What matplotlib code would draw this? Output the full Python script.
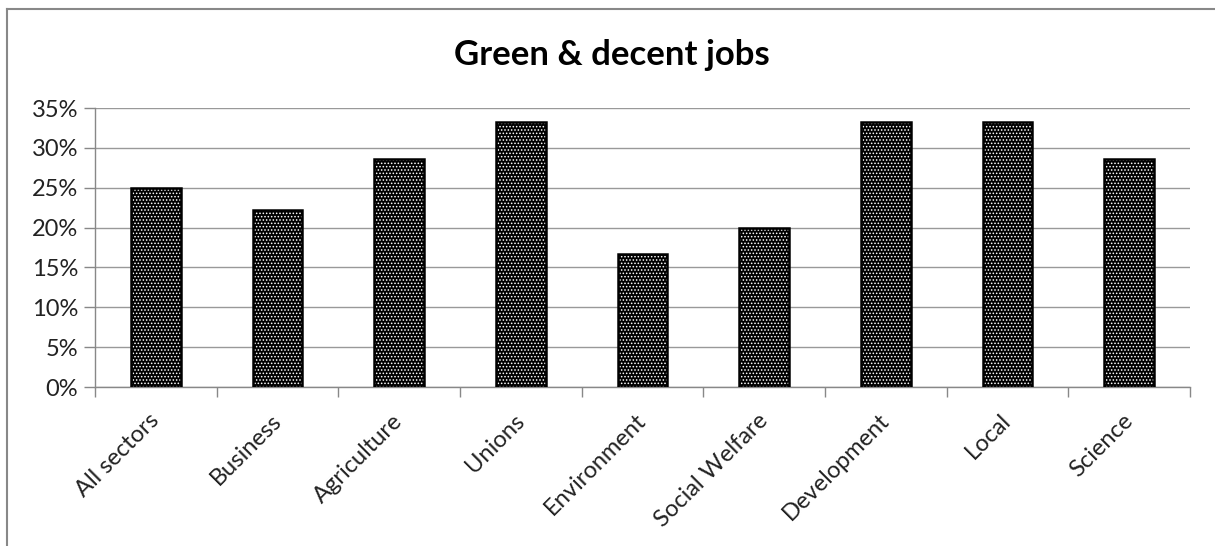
import matplotlib
matplotlib.use("Agg")
import matplotlib.pyplot as plt
from matplotlib.lines import Line2D
import matplotlib.transforms as mtransforms
import numpy as np

categories = ["All sectors", "Business", "Agriculture", "Unions", "Environment",
              "Social Welfare", "Development", "Local", "Science"]
values = [0.25, 0.222, 0.286, 0.333, 0.167, 0.20, 0.333, 0.333, 0.286]
yticks = [0, 0.05, 0.10, 0.15, 0.20, 0.25, 0.30, 0.35]
ytick_labels = ["0%", "5%", "10%", "15%", "20%", "25%", "30%", "35%"]
title = "Green & decent jobs"

plt.rcParams['font.family'] = ['Lato', 'DejaVu Sans']
plt.rcParams['hatch.linewidth'] = 0.7

W, H = 1215, 546
fig = plt.figure(figsize=(W / 100, H / 100), dpi=100)
ax = fig.add_axes([95 / W, 1 - 387 / H, (1190 - 95) / W, (387 - 108) / H])

x = np.arange(len(categories))
# dotted fill: white hatch on black face
ax.bar(x, values, width=0.41, color='black', edgecolor='white', linewidth=0,
       hatch='.....', zorder=3)
# black outline
ax.bar(x, values, width=0.41, fill=False, edgecolor='black', linewidth=1.8,
       zorder=4)

ax.set_xlim(-0.5, len(categories) - 0.5)
ax.set_ylim(0, 0.35)
ax.set_yticks(yticks)
ax.set_yticklabels(ytick_labels, fontsize=17, color='#222222')
ax.set_xticks(x)
ax.set_xticklabels([])
ax.set_xticks(np.arange(-0.5, len(categories)), minor=True)
ax.tick_params(axis='x', which='major', length=0)
ax.tick_params(axis='x', which='minor', length=7, color='#888888', width=1)
ax.tick_params(axis='y', length=8, color='#888888', width=1, pad=4)

# category labels, rotated 45 degrees, anchored just below each category centre
lbl_trans = ax.get_xaxis_transform() + mtransforms.ScaledTranslation(
    -7 / 100, -23 / 100, fig.dpi_scale_trans)
for xi, cat in zip(x, categories):
    ax.text(xi, 0, cat, transform=lbl_trans, rotation=45, ha='right', va='top',
            rotation_mode='anchor', fontsize=17, color='#222222', clip_on=False)

ax.yaxis.grid(True, color='#999999', linewidth=1)
ax.set_axisbelow(True)
for s in ['top', 'right']:
    ax.spines[s].set_visible(False)
for s in ['left', 'bottom']:
    ax.spines[s].set_color('#888888')
    ax.spines[s].set_linewidth(1)

fig.text(612 / W, 1 - 55 / H, title, ha='center', va='center',
         fontsize=25, fontweight='bold', color='black')

# chart-area border (left and top edges visible)
fig.add_artist(Line2D([7 / W, 7 / W], [0, 1 - 9 / H], transform=fig.transFigure,
                      color='#888888', linewidth=1.5))
fig.add_artist(Line2D([7 / W, 1], [1 - 9 / H, 1 - 9 / H], transform=fig.transFigure,
                      color='#888888', linewidth=1.5))

fig.savefig("out.png", dpi=100, facecolor='white')
